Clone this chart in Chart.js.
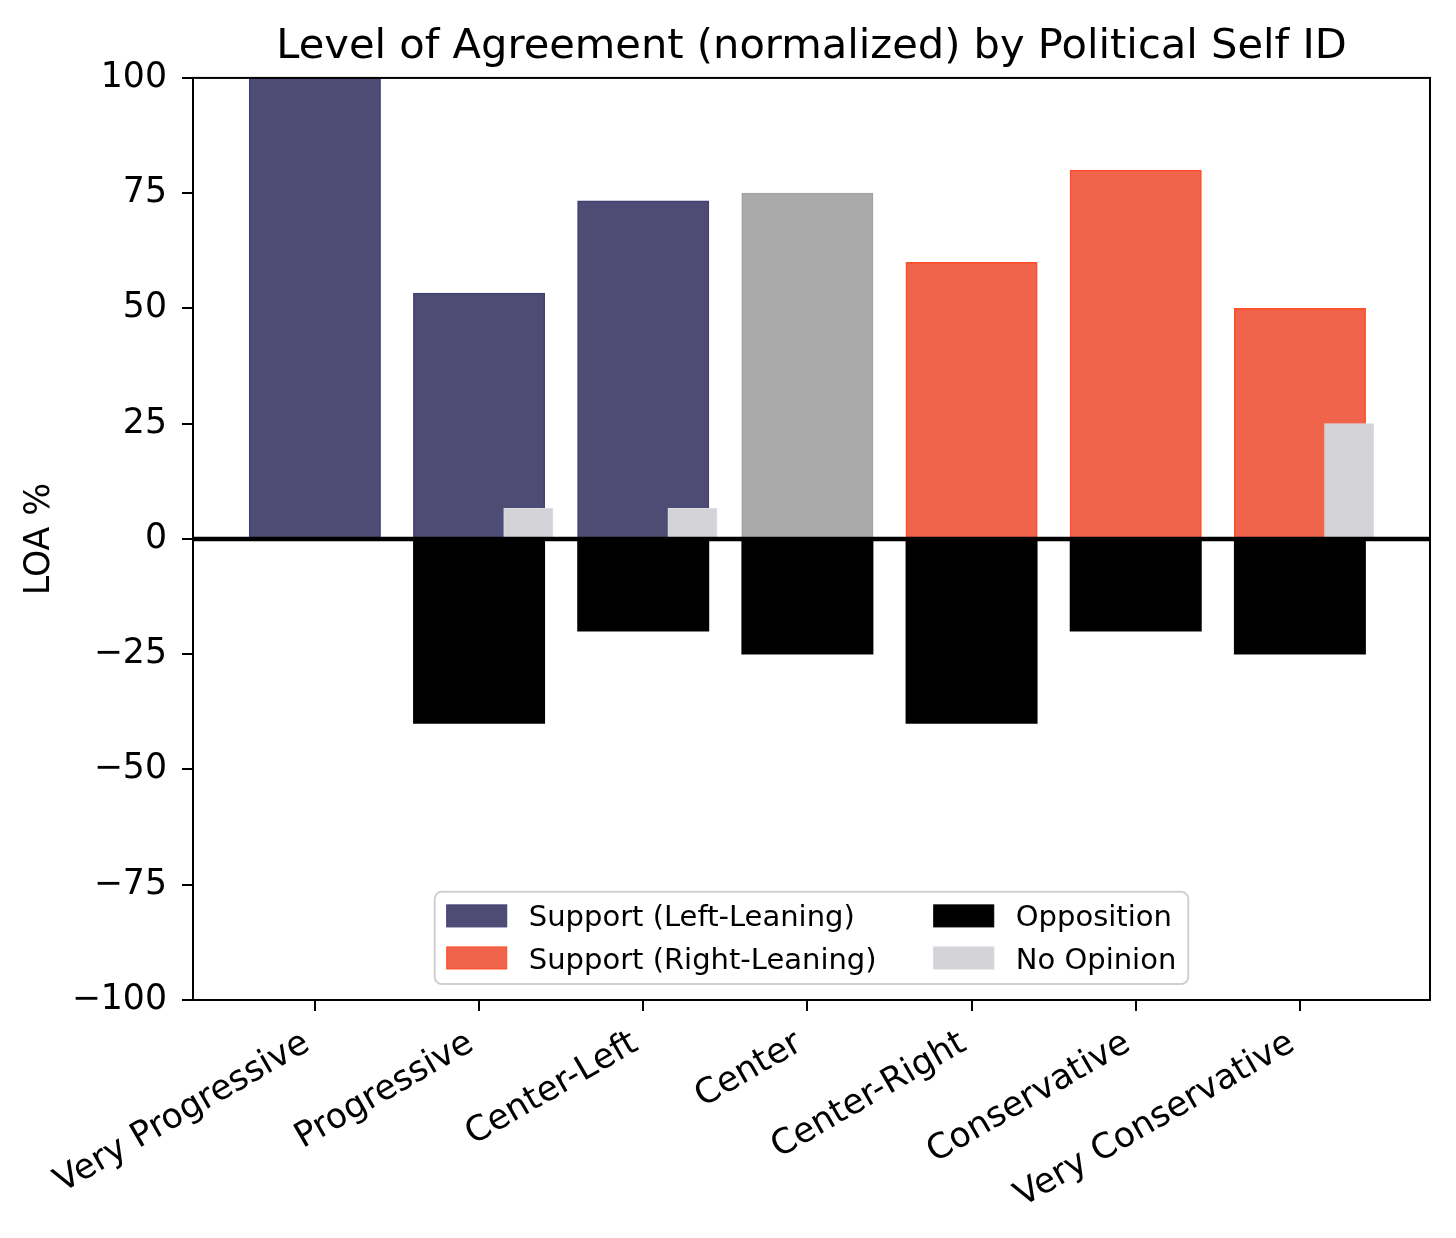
<!DOCTYPE html>
<html>
<head>
<meta charset="utf-8">
<script src="https://cdn.jsdelivr.net/npm/chart.js@4.4.1/dist/chart.umd.min.js"></script>
<style>
    html, body { margin: 0; padding: 0; background: #ffffff; }
    canvas { display: block; }
</style>
</head>
<body>
<canvas id="js--chart" width="1456" height="1238"></canvas>
<script>
// data
const categories = ["Very Progressive", "Progressive", "Center-Left", "Center",
    "Center-Right", "Conservative", "Very Conservative"];
const leaning = ["left", "left", "left", "center", "right", "right", "right"];
const supportValues = [100, 53.33, 73.33, 75, 60, 80, 50];
const oppositionValues = [0, -40, -20, -25, -40, -20, -25];
const noOpinionValues = [0, 6.67, 6.67, 0, 0, 0, 25];
const yTicks = [-100, -75, -50, -25, 0, 25, 50, 75, 100];

const fills = { left: "#4e4c75", right: "#f0644c", center: "#aaaaaa" };
const edges = { left: "#403e72", right: "#ff4d28", center: "#a2a2a2" };
const oppositionColor = "#000000";
const noOpinionColor = "#d3d3d8";

const FONT = "'DejaVu Sans', sans-serif";
const tickSize = 34.7;
const legendSize = 29;
const titleSize = 41.6;

const legendItems = [
    { label: "Support (Left-Leaning)", color: fills.left, edge: edges.left },
    { label: "Support (Right-Leaning)", color: fills.right, edge: edges.right },
    { label: "Opposition", color: oppositionColor, edge: oppositionColor },
    { label: "No Opinion", color: noOpinionColor, edge: noOpinionColor }
];

// bar width given in x units, turned into pixels by the x scale
function barWidth(units) {
    return function (ctx) {
        const x = ctx.chart.scales.x;
        if (!x) return undefined;
        return Math.abs(x.getPixelForValue(units) - x.getPixelForValue(0));
    };
}

const supportData = supportValues.map((v, i) => ({ x: i, y: v }));
const oppositionData = oppositionValues.map((v, i) => ({ x: i, y: v }));
const noOpinionData = noOpinionValues.map((v, i) => ({ x: i + 0.3, y: v }));

const data = {
    datasets: [
        {
            label: "Support",
            data: supportData,
            backgroundColor: leaning.map(l => fills[l]),
            borderColor: leaning.map(l => edges[l]),
            borderWidth: 1.5,
            barThickness: barWidth(0.8),
            order: 2
        },
        {
            label: "Opposition",
            data: oppositionData,
            backgroundColor: oppositionColor,
            borderWidth: 0,
            barThickness: barWidth(0.8),
            order: 1
        },
        {
            label: "No Opinion",
            data: noOpinionData,
            backgroundColor: noOpinionColor,
            borderColor: "#dddde2",
            borderWidth: 1,
            barThickness: barWidth(0.3),
            order: 0
        }
    ]
};

// zero line and box frame, on top of the bars
const framePlugin = {
    id: "frame",
    afterDatasetsDraw(chart) {
        const ctx = chart.ctx;
        const a = chart.chartArea;
        const y0 = chart.scales.y.getPixelForValue(0);
        ctx.save();
        ctx.strokeStyle = "#000";
        ctx.lineWidth = 4.5;
        ctx.beginPath();
        ctx.moveTo(a.left, y0);
        ctx.lineTo(a.right, y0);
        ctx.stroke();
        ctx.lineWidth = 2;
        ctx.strokeRect(a.left, a.top, a.right - a.left, a.bottom - a.top);
        ctx.restore();
    }
};

// two-column legend in the lower centre of the axes
const boxLegend = {
    id: "boxLegend",
    afterDraw(chart) {
        const ctx = chart.ctx;
        const a = chart.chartArea;
        const em = legendSize;
        const pad = 0.414 * em, handleW = 2.07 * em, handleH = 0.76 * em;
        const gap = 0.76 * em, colGap = 1.97 * em, rowPitch = 1.45 * em;
        const topPad = 0.83 * em, botPad = 0.9 * em;
        ctx.save();
        ctx.font = legendSize + "px " + FONT;
        const cols = [legendItems.slice(0, 2), legendItems.slice(2, 4)];
        const colW = cols.map(c => handleW + gap + Math.max(...c.map(it => ctx.measureText(it.label).width)));
        const w = pad * 2 + colW[0] + colGap + colW[1];
        const h = topPad + rowPitch + botPad;
        const left = (a.left + a.right) / 2 - w / 2;
        const top = a.bottom - 0.55 * em - h;

        ctx.beginPath();
        ctx.roundRect(left, top, w, h, 7);
        ctx.fillStyle = "rgba(255,255,255,0.8)";
        ctx.fill();
        ctx.strokeStyle = "#d0d0d0";
        ctx.lineWidth = 2;
        ctx.stroke();

        let x = left + pad;
        cols.forEach((col, c) => {
            col.forEach((it, r) => {
                const cy = top + topPad + r * rowPitch;
                ctx.fillStyle = it.color;
                ctx.fillRect(x, cy - handleH / 2, handleW, handleH);
                ctx.strokeStyle = it.edge;
                ctx.lineWidth = 1;
                ctx.strokeRect(x, cy - handleH / 2, handleW, handleH);
                ctx.fillStyle = "#000";
                ctx.textBaseline = "alphabetic";
                ctx.textAlign = "left";
                ctx.fillText(it.label, x + handleW + gap, cy + 0.365 * em);
            });
            x += colW[c] + colGap;
        });
        ctx.restore();
    }
};

const config = {
    type: "bar",
    data: data,
    options: {
        responsive: false,
        animation: false,
        layout: { padding: { left: 0, right: 26, top: 0, bottom: 0 } },
        datasets: { bar: { grouped: false } },
        plugins: {
            legend: { display: false },
            tooltip: { enabled: false },
            title: {
                display: true,
                fullSize: false,
                text: "Level of Agreement (normalized) by Political Self ID",
                color: "#000",
                font: { family: FONT, size: titleSize, weight: "normal", lineHeight: 1.2 },
                padding: { top: 22, bottom: 6 }
            }
        },
        scales: {
            x: {
                type: "linear",
                offset: false,
                min: -0.7425,
                max: 6.7925,
                afterBuildTicks: s => { s.ticks = categories.map((c, i) => ({ value: i })); },
                afterFit: s => { s.height = 238; },
                grid: { offset: false, drawOnChartArea: false, color: "#000", lineWidth: 2, tickLength: 11 },
                border: { display: true, color: "#000", width: 2 },
                ticks: {
                    autoSkip: false,
                    minRotation: 30,
                    maxRotation: 30,
                    padding: 12,
                    labelOffset: -8,
                    color: "#000",
                    font: { family: FONT, size: tickSize },
                    callback: v => categories[v] ?? ""
                }
            },
            y: {
                min: -100,
                max: 100,
                afterBuildTicks: s => { s.ticks = yTicks.map(v => ({ value: v })); },
                afterFit: s => { s.width = 193; },
                grid: { drawOnChartArea: false, color: "#000", lineWidth: 2, tickLength: 11 },
                border: { display: true, color: "#000", width: 2 },
                ticks: {
                    padding: 15,
                    color: "#000",
                    font: { family: FONT, size: tickSize },
                    callback: v => String(v).replace("-", "\u2212")
                },
                title: {
                    display: true,
                    text: "LOA %",
                    color: "#000",
                    font: { family: FONT, size: tickSize, lineHeight: 1.2 },
                    padding: { top: 19, bottom: 0 }
                }
            }
        }
    },
    plugins: [framePlugin, boxLegend]
};

const chart = new Chart(document.getElementById("js--chart"), config);
</script>
</body>
</html>
